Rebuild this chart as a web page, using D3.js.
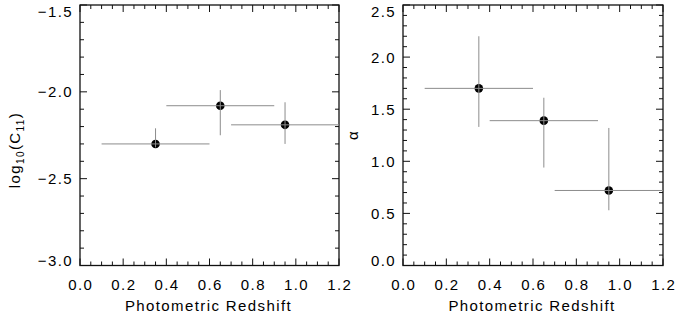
<!DOCTYPE html>
<html>
<head>
<meta charset="utf-8">
<script src="https://cdn.jsdelivr.net/npm/d3@7"></script>
<style>
  body { margin: 0; background: #fff; }
  svg text { font-family: "Liberation Sans", "DejaVu Sans", sans-serif; fill: #000; letter-spacing: 1.4px; }
</style>
</head>
<body>
<div id="chart"></div>
<script>
// Data
const redshift = [0.35, 0.65, 0.95];
const zLow = [0.1, 0.4, 0.7];
const zHigh = [0.6, 0.9, 1.2];

const logC = [-2.30, -2.08, -2.19];
const logCLow = [-2.32, -2.25, -2.30];
const logCHigh = [-2.21, -1.99, -2.06];

const alpha = [1.70, 1.39, 0.72];
const alphaLow = [1.33, 0.94, 0.53];
const alphaHigh = [2.20, 1.61, 1.32];

const xTicks = [0.0, 0.2, 0.4, 0.6, 0.8, 1.0, 1.2];
const leftTicks = [-3.0, -2.5, -2.0, -1.5];
const rightTicks = [0.0, 0.5, 1.0, 1.5, 2.0, 2.5];

const width = 676, height = 320;

const svg = d3.select("#chart")
  .append("svg")
  .attr("width", width)
  .attr("height", height);

const fmt = v => d3.format(".1f")(v).replace("-", "\u2212");

function panel(opts) {
  const x = d3.scaleLinear().domain([0, 1.2]).range([opts.x0, opts.x1]);
  const y = d3.scaleLinear().domain(opts.yDomain).range([265.5, 5]);
  const g = svg.append("g");

  // minor/major ticks, inward on all sides
  const xMinor = d3.range(0, 1.2001, 0.05);
  const yMinor = d3.range(opts.yDomain[0], opts.yDomain[1] + 0.0001, 0.1);
  const isMajorX = v => Math.abs(v / 0.2 - Math.round(v / 0.2)) < 1e-6;
  const isMajorY = v => Math.abs(v / 0.5 - Math.round(v / 0.5)) < 1e-6;

  xMinor.forEach(v => {
    const len = isMajorX(v) ? 7 : 4;
    g.append("line").attr("x1", x(v)).attr("x2", x(v))
      .attr("y1", y.range()[0]).attr("y2", y.range()[0] - len)
      .attr("stroke", "#111").attr("stroke-width", 1);
    g.append("line").attr("x1", x(v)).attr("x2", x(v))
      .attr("y1", y.range()[1]).attr("y2", y.range()[1] + len)
      .attr("stroke", "#111").attr("stroke-width", 1);
  });
  yMinor.forEach(v => {
    const len = isMajorY(v) ? 7 : 4;
    g.append("line").attr("y1", y(v)).attr("y2", y(v))
      .attr("x1", opts.x0).attr("x2", opts.x0 + len)
      .attr("stroke", "#111").attr("stroke-width", 1);
    g.append("line").attr("y1", y(v)).attr("y2", y(v))
      .attr("x1", opts.x1).attr("x2", opts.x1 - len)
      .attr("stroke", "#111").attr("stroke-width", 1);
  });

  // frame
  g.append("rect")
    .attr("x", opts.x0).attr("y", 5)
    .attr("width", opts.x1 - opts.x0).attr("height", 260.5)
    .attr("fill", "none").attr("stroke", "#111").attr("stroke-width", 1.3);

  // tick labels
  g.selectAll(".xl").data(xTicks).enter().append("text")
    .attr("x", d => x(d) + 0.7).attr("y", 290)
    .attr("text-anchor", "middle")
    .style("font-size", "15px")
    .text(d => fmt(d));

  // end labels are pulled inside the frame, as in the original
  g.selectAll(".yl").data(opts.yTicks).enter().append("text")
    .attr("x", opts.x0 - 7).attr("y", d => Math.min(Math.max(y(d), 11), 260.5) + 5.5)
    .attr("text-anchor", "end")
    .style("font-size", "15px")
    .text(d => fmt(d));

  g.append("text")
    .attr("x", (opts.x0 + opts.x1) / 2 - 1).attr("y", 311)
    .attr("text-anchor", "middle")
    .style("font-size", "15px")
    .text("Photometric Redshift");

  // points: dots first, grey error bars on top
  const pts = redshift.map((z, i) => ({
    z, lo: zLow[i], hi: zHigh[i],
    v: opts.vals[i], vlo: opts.low[i], vhi: opts.high[i]
  }));

  g.selectAll(".dot").data(pts).enter().append("circle")
    .attr("cx", d => x(d.z)).attr("cy", d => y(d.v))
    .attr("r", 4.3).attr("fill", "#000");

  g.selectAll(".hbar").data(pts).enter().append("line")
    .attr("x1", d => x(d.lo)).attr("x2", d => x(d.hi))
    .attr("y1", d => y(d.v)).attr("y2", d => y(d.v))
    .attr("stroke", "#8c8c8c").attr("stroke-width", 1);

  g.selectAll(".vbar").data(pts).enter().append("line")
    .attr("x1", d => x(d.z)).attr("x2", d => x(d.z))
    .attr("y1", d => y(d.vlo)).attr("y2", d => y(d.vhi))
    .attr("stroke", "#8c8c8c").attr("stroke-width", 1);

  return g;
}

panel({ x0: 80, x1: 339, yDomain: [-3.0, -1.5], yTicks: leftTicks,
        vals: logC, low: logCLow, high: logCHigh });
panel({ x0: 403, x1: 663, yDomain: [0, 2.5], yTicks: rightTicks,
        vals: alpha, low: alphaLow, high: alphaHigh });

// y axis titles
const t1 = svg.append("text")
  .attr("transform", "translate(20,150) rotate(-90)")
  .attr("text-anchor", "middle")
  .style("font-size", "15px");
t1.append("tspan").text("log");
t1.append("tspan").attr("dy", 4).style("font-size", "10px").text("10");
t1.append("tspan").attr("dy", -4).text("(C");
t1.append("tspan").attr("dy", 4).style("font-size", "10px").text("11");
t1.append("tspan").attr("dy", -4).text(")");

svg.append("text")
  .attr("transform", "translate(358,135) rotate(-90)")
  .attr("text-anchor", "middle")
  .style("font-size", "15px")
  .text("\u03b1");
</script>
</body>
</html>
